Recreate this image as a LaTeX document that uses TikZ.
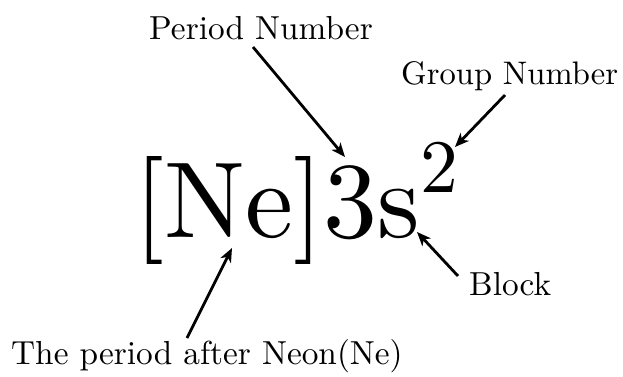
\documentclass[tikz,border=0pt]{standalone}
\usepackage{fontspec}
\setmainfont{lmroman10-regular}[Extension=.otf]
\usetikzlibrary{arrows.meta}
\begin{document}
\begin{tikzpicture}[x=1pt,y=-1pt,
  lbl/.style={inner sep=0pt,anchor=base west,font=\fontsize{33.3}{39}\selectfont},
  big/.style={inner sep=0pt,anchor=base west,font=\fontsize{108}{120}\selectfont},
  sup/.style={inner sep=0pt,anchor=base west,font=\fontsize{75.6}{84}\selectfont},
  arr/.style={line width=2.8pt,-{Stealth[length=14pt,width=11.5pt,inset=4pt]}}]
\useasboundingbox (0,0) rectangle (623,377);
\node[big] (formula) at (134,237) {[Ne]3s};
\node[sup] (two) at (420,192) {2};
\node[lbl] (pn) at (149,40) {Period Number};
\node[lbl] (gn) at (401,85) {\fontsize{32.6}{39}\selectfont Group Number};
\node[lbl] (blk) at (469,295) {Block};
\node[lbl] (neon) at (11,364) {The period after Neon(Ne)};
\coordinate (pnS) at (253,47);
\coordinate (pnT) at (345,157);
\coordinate (gnS) at (505,95);
\coordinate (gnT) at (455,147);
\coordinate (blkS) at (458,276);
\coordinate (blkT) at (417,232);
\coordinate (neS) at (187,338);
\coordinate (neT) at (232,248);
\draw[arr] (pnS) -- (pnT);
\draw[arr] (gnS) -- (gnT);
\draw[arr] (blkS) -- (blkT);
\draw[arr] (neS) -- (neT);
\end{tikzpicture}
\end{document}
